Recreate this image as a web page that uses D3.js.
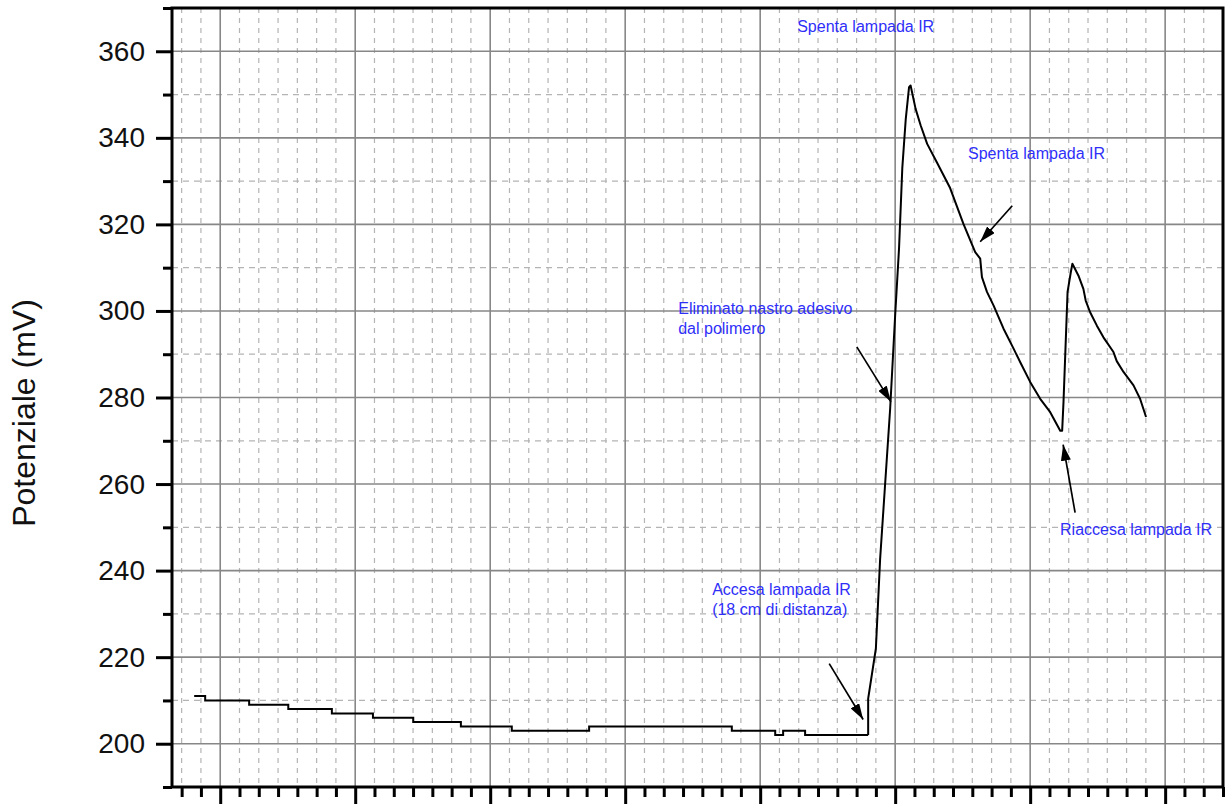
<!DOCTYPE html>
<html>
<head>
<meta charset="utf-8">
<script src="https://cdn.jsdelivr.net/npm/d3@7"></script>
<style>
  body { margin: 0; background: #fff; }
  svg { display: block; font-family: Arial, "Liberation Sans", sans-serif; }
</style>
</head>
<body>
<script>
// time axis in minor-tick units (major tick every 7), potential in mV
var baseT = [-1.35, -0.78, 1.50, 3.53, 5.79, 7.92, 10.01, 12.48, 15.12, 19.13, 26.53, 28.78, 29.19, 30.33, 33.60];
var baseV = [211, 210, 209, 208, 207, 206, 205, 204, 203, 204, 203, 202, 203, 202, 202];

var respT = [33.60, 33.60, 34.00, 34.22, 34.74, 35.00, 35.10, 35.20, 35.37, 35.55, 35.72, 35.80,
             36.06, 36.32, 36.66, 37.18, 37.85, 38.54, 39.15, 39.41, 39.50, 39.76, 40.10, 40.62,
             41.14, 41.48, 42.00, 42.52, 43.04, 43.56, 43.66, 43.73, 43.94, 44.11, 44.19, 44.50,
             44.76, 44.88, 45.11, 45.46, 45.80, 46.32, 46.49, 46.84, 47.36, 47.70, 48.01];
var respV = [202, 210.4, 222, 242.7, 277.4, 299, 306.7, 314.4, 333, 344.4, 351.7, 352.1,
             346.7, 342.9, 338.6, 334.2, 328.4, 320.1, 313.6, 312.1, 307.8, 304.4, 301.3, 295.9,
             291.3, 288.2, 283.6, 279.7, 276.6, 272.3, 272.3, 279, 304.4, 309, 310.9, 308.2,
             305.1, 302.4, 299.7, 296.6, 293.9, 290.5, 288.4, 285.9, 282.8, 279.7, 275.5];

var yMajor = [200, 220, 240, 260, 280, 300, 320, 340, 360];
var yMinor = [190, 210, 230, 250, 270, 290, 310, 330, 350, 370];
var xMajor = [0, 7, 14, 21, 28, 35, 42, 49];

var noteText = [["Spenta lampada IR"], ["Spenta lampada IR"], ["Eliminato nastro adesivo", "dal polimero"],
                ["Riaccesa lampada IR"], ["Accesa lampada IR", "(18 cm di distanza)"]];
var noteT = [29.92, 38.78, 23.75, 43.55, 25.51];
var noteV = [364.5, 335.2, 299.4, 248.3, 234.4];

var arrowFrom = [[31.58, 218.5], [33.01, 291.7], [41.07, 324.3], [44.33, 253.4]];
var arrowTo = [[33.34, 205.6], [34.78, 279.0], [39.41, 316.0], [43.71, 269.1]];

var width = 1225, height = 807;
var margin = {left: 172, top: 8, right: 2, bottom: 20};

var svg = d3.select("body").append("svg")
    .attr("width", width)
    .attr("height", height);

svg.append("rect").attr("width", width).attr("height", height).attr("fill", "#fff");

var x = d3.scaleLinear().domain([-2.5, 52]).range([margin.left, width - margin.right]);
var y = d3.scaleLinear().domain([190, 370]).range([height - margin.bottom, margin.top]);

var xMinor = d3.range(-2, 53).filter(function(d){ return xMajor.indexOf(d) < 0; });

// grid
var grid = svg.append("g");
grid.selectAll(".vmin").data(xMinor).join("line")
    .attr("x1", d => x(d)).attr("x2", d => x(d))
    .attr("y1", y(370)).attr("y2", y(190))
    .attr("stroke", "#b4b4b4").attr("stroke-width", 1.2).attr("stroke-dasharray", "5,5");
grid.selectAll(".hmin").data(yMinor).join("line")
    .attr("x1", x(-2.5)).attr("x2", x(52))
    .attr("y1", d => y(d)).attr("y2", d => y(d))
    .attr("stroke", "#b4b4b4").attr("stroke-width", 1.2).attr("stroke-dasharray", "6,5");
grid.selectAll(".vmaj").data(xMajor).join("line")
    .attr("x1", d => x(d)).attr("x2", d => x(d))
    .attr("y1", y(370)).attr("y2", y(190))
    .attr("stroke", "#878787").attr("stroke-width", 1.6);
grid.selectAll(".hmaj").data(yMajor).join("line")
    .attr("x1", x(-2.5)).attr("x2", x(52))
    .attr("y1", d => y(d)).attr("y2", d => y(d))
    .attr("stroke", "#878787").attr("stroke-width", 1.6);

// axes
var yAxis = svg.append("g").attr("transform", `translate(${margin.left},0)`)
    .call(d3.axisLeft(y).tickValues(yMajor).tickSize(16).tickPadding(11).tickFormat(d3.format("d")));
var yAxisMinor = svg.append("g").attr("transform", `translate(${margin.left},0)`)
    .call(d3.axisLeft(y).tickValues(yMinor).tickSize(9).tickFormat(""));
var xAxis = svg.append("g").attr("transform", `translate(0,${y(190)})`)
    .call(d3.axisBottom(x).tickValues(xMajor).tickSize(17).tickFormat(""));
var xAxisMinor = svg.append("g").attr("transform", `translate(0,${y(190)})`)
    .call(d3.axisBottom(x).tickValues(xMinor).tickSize(10).tickFormat(""));

[yAxis, yAxisMinor, xAxis, xAxisMinor].forEach(function(a){
  a.select(".domain").remove();
  a.selectAll(".tick line").attr("stroke", "#000").attr("stroke-width", 3);
});
yAxis.selectAll(".tick text").attr("font-size", 28).attr("fill", "#111")
    .attr("font-family", "Arial, 'Liberation Sans', sans-serif");

// frame
svg.append("rect")
    .attr("x", x(-2.5)).attr("y", y(370))
    .attr("width", x(52) - x(-2.5)).attr("height", y(190) - y(370))
    .attr("fill", "none").attr("stroke", "#000").attr("stroke-width", 3);

// axis title
svg.append("text")
    .attr("transform", `translate(35,${413}) rotate(-90)`)
    .attr("text-anchor", "middle")
    .attr("font-size", 32).attr("fill", "#111")
    .text("Potenziale (mV)");

// data
var baseData = baseT.map((t, i) => ({t: t, v: baseV[i]}));
var respData = respT.map((t, i) => ({t: t, v: respV[i]}));

svg.append("path").datum(baseData)
    .attr("fill", "none").attr("stroke", "#000").attr("stroke-width", 2)
    .attr("d", d3.line().x(d => x(d.t)).y(d => y(d.v)).curve(d3.curveStepAfter));
svg.append("path").datum(respData)
    .attr("fill", "none").attr("stroke", "#000").attr("stroke-width", 2)
    .attr("stroke-linejoin", "round")
    .attr("d", d3.line().x(d => x(d.t)).y(d => y(d.v)));

// arrows
svg.append("defs").append("marker")
    .attr("id", "head").attr("markerUnits", "userSpaceOnUse")
    .attr("viewBox", "0 0 16 10").attr("refX", 16).attr("refY", 5)
    .attr("markerWidth", 16).attr("markerHeight", 10).attr("orient", "auto")
  .append("path").attr("d", "M0,0 L16,5 L0,10 Z").attr("fill", "#000");

svg.selectAll(".arrow").data(arrowFrom).join("line")
    .attr("x1", d => x(d[0])).attr("y1", d => y(d[1]))
    .attr("x2", (d, i) => x(arrowTo[i][0])).attr("y2", (d, i) => y(arrowTo[i][1]))
    .attr("stroke", "#000").attr("stroke-width", 1.7)
    .attr("marker-end", "url(#head)");

// notes
noteText.forEach(function(lines, i){
  var t = svg.append("text")
      .attr("x", x(noteT[i])).attr("y", y(noteV[i]))
      .attr("font-size", 16).attr("fill", "#2f2ff8");
  lines.forEach(function(s, j){
    t.append("tspan").attr("x", x(noteT[i])).attr("dy", j ? 20 : 0).text(s);
  });
});
</script>
</body>
</html>
